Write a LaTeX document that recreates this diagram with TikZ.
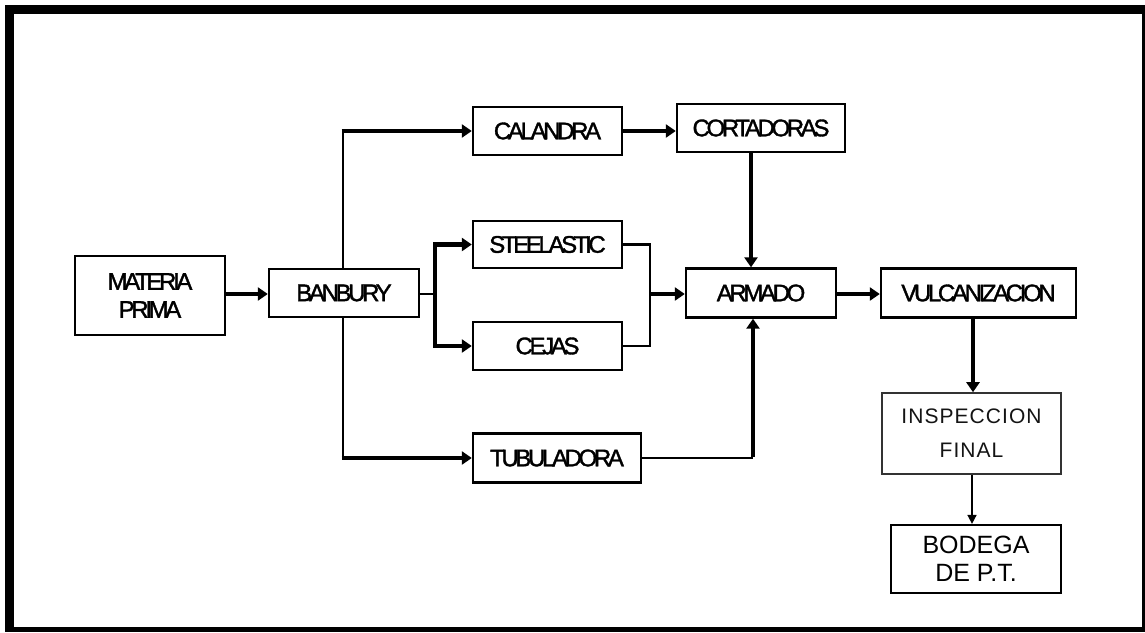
\documentclass[tikz,border=0pt]{standalone}
\usepackage{fontspec}
\setmainfont{Liberation Sans}
\newfontfamily\sqfont[LetterSpace=-14,FakeBold=1.5]{Liberation Sans}
\newfontfamily\widefont[LetterSpace=5]{Liberation Sans}
\usetikzlibrary{arrows.meta}
\tikzset{
  box/.style={draw=black, line width=2.4pt, fill=white, inner sep=0pt, align=center,
    font=\sqfont\fontsize{24}{28}\selectfont},
  greybox/.style={draw=black!80, line width=1.6pt, fill=white, inner sep=0pt, align=center,
    text=black!92, font=\widefont\fontsize{21}{34}\selectfont},
  plainbox/.style={draw=black, line width=2.2pt, fill=white, inner sep=0pt, align=center,
    font=\fontsize{25}{28}\selectfont},
  thickline/.style={line width=4.5pt},
  thinline/.style={line width=2.8pt},
  arr/.style={-{Triangle[length=10pt,width=13pt]}},
  smallarr/.style={line width=1.5pt, -{Triangle[length=9pt,width=9pt]}},
}
\begin{document}
\begin{tikzpicture}[x=1pt,y=-1pt]
\useasboundingbox (0,0) rectangle (1145,632);
% frame
\fill[black] (5,5) rectangle (1145,14);
\fill[black] (5,5) rectangle (14,632);
\fill[black] (5,627) rectangle (1145,632);
\fill[black] (1142,5) rectangle (1145,632);

% nodes
\node[box, minimum width=150pt, minimum height=79pt] (mp) at (150,295.5) {MATERIA\\PRIMA};
\node[box, minimum width=150pt, minimum height=48pt] (ban) at (344,293) {BANBURY};
\node[box, minimum width=149pt, minimum height=48pt] (cal) at (547.5,131) {CALANDRA};
\node[box, minimum width=168pt, minimum height=48pt] (cor) at (761,128) {CORTADORAS};
\node[box, minimum width=149pt, minimum height=47pt] (ste) at (547.5,244.5) {STEELASTIC};
\node[box, minimum width=149pt, minimum height=48pt] (cej) at (547.5,346) {CEJAS};
\node[box, minimum width=150pt, minimum height=49pt] (arm) at (761,293) {ARMADO};
\node[box, minimum width=195pt, minimum height=49pt] (vul) at (978.5,293) {VULCANIZACION};
\node[box, minimum width=168pt, minimum height=49pt] (tub) at (557,458) {TUBULADORA};
\node[greybox, minimum width=179pt, minimum height=81pt] (ins) at (971.5,433.5) {INSPECCION\\FINAL};
\node[plainbox, minimum width=170pt, minimum height=68pt] (bod) at (976,559) {BODEGA\\DE P.T.};

% helper coordinates
\coordinate (up) at (343,131);
\coordinate (down) at (343,458);
\coordinate (split) at (435,294);
\coordinate (merge) at (650,294);
\coordinate (cx) at (751,0);
\coordinate (tx) at (753,458);
\coordinate (vx) at (973,0);
\coordinate (ix) at (972,0);

% connectors
\draw[thickline, arr] (mp.east |- split) -- (ban.west |- split);
\draw[thinline] (ban.north -| up) -- (up);
\draw[thickline, arr] ([xshift=-1.4pt]up) -- (cal.west);
\draw[thinline] (ban.south -| down) -- (down);
\draw[thickline, arr] ([xshift=-1.4pt]down) -- (tub.west);
\draw[thinline] (ban.east |- split) -- (split);
\draw[line width=3.5pt] (split |- ste.west) -- (split |- cej.west);
\draw[thickline, arr] ([xshift=-1.75pt]split |- ste.west) -- (ste.west);
\draw[thickline, arr] ([xshift=-1.75pt]split |- cej.west) -- (cej.west);
\draw[thinline] (ste.east) -- (merge |- ste.east) -- (merge |- cej.east) -- (cej.east);
\draw[thickline, arr] (merge) -- (arm.west |- merge);
\draw[thickline, arr] (cal.east) -- (cor.west |- cal.east);
\draw[thickline, arr] (cor.south -| cx) -- (arm.north -| cx);
\draw[thinline] (tub.east) -- (tx);
\draw[thickline, arr] ([yshift=1.4pt]tx) -- (arm.south -| tx);
\draw[thickline, arr] (arm.east |- merge) -- (vul.west |- merge);
\draw[thickline, arr] (vul.south -| vx) -- (ins.north -| vx);
\draw[smallarr] (ins.south -| ix) -- (bod.north -| ix);
\end{tikzpicture}
\end{document}
